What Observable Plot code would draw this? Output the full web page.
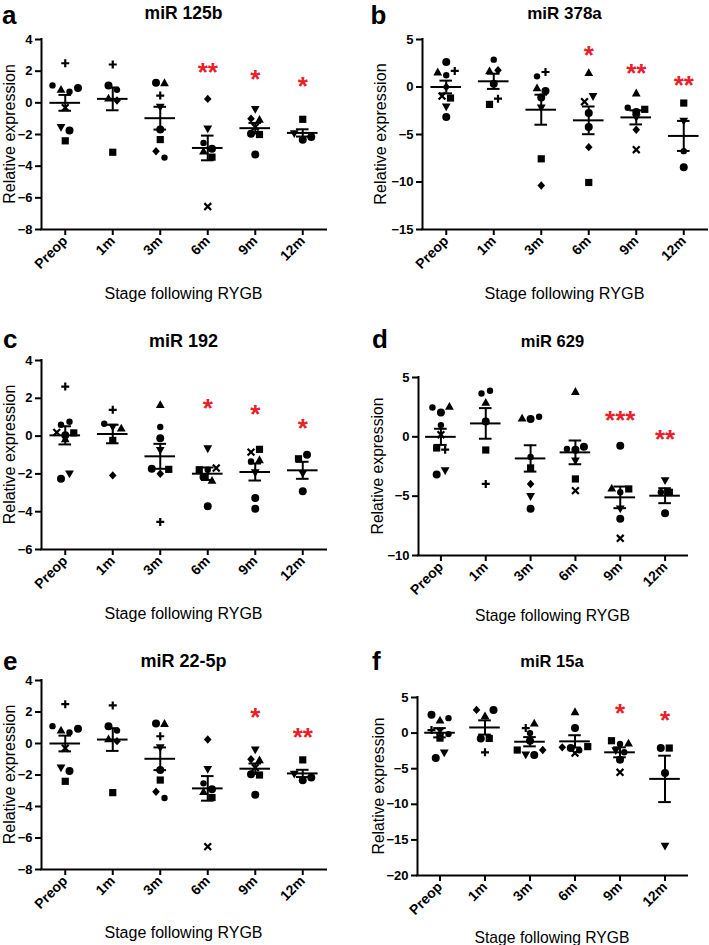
<!DOCTYPE html>
<html><head><meta charset="utf-8">
<script src="https://cdn.jsdelivr.net/npm/d3@7"></script>
<script src="https://cdn.jsdelivr.net/npm/@observablehq/plot@0.6"></script>
<style>
html,body{margin:0;padding:0;background:#fff;}
#root{position:relative;width:709px;height:945px;overflow:hidden;font-family:"Liberation Sans",Arial,sans-serif;}
.panel{position:absolute;}
.panel svg{overflow:visible;}
#overlay{position:absolute;left:0;top:0;pointer-events:none;}
</style></head><body><div id="root"></div>
<script>
// ---------------- DATA ----------------
const stages = ["Preop", "1m", "3m", "6m", "9m", "12m"];
// symbol codes: o circle, h small dot, s square, t triangle, v inverted triangle, d diamond, + plus, x cross
// points: [stage, relative expression, symbol]
const miR125b_points = [
  ["Preop",2.5,"+"],["Preop",1.1,"h"],["Preop",0.85,"t"],["Preop",0.7,"h"],["Preop",0.93,"o"],["Preop",-0.3,"x"],["Preop",-1.55,"v"],["Preop",-1.75,"o"],["Preop",-2.4,"s"],
  ["1m",2.42,"+"],["1m",1.1,"o"],["1m",0.82,"h"],["1m",0.3,"t"],["1m",0.15,"d"],["1m",-3.12,"s"],
  ["3m",1.27,"o"],["3m",1.27,"t"],["3m",0.46,"+"],["3m",-0.27,"v"],["3m",-1.69,"o"],["3m",-2.32,"s"],["3m",-3.06,"d"],["3m",-3.46,"h"],
  ["6m",0.25,"d"],["6m",-1.64,"v"],["6m",-2.53,"h"],["6m",-3.05,"t"],["6m",-2.9,"o"],["6m",-3.43,"s"],["6m",-6.55,"x"],
  ["9m",-0.41,"v"],["9m",-1.0,"d"],["9m",-1.04,"t"],["9m",-1.53,"x"],["9m",-1.95,"o"],["9m",-2.0,"s"],["9m",-3.26,"o"],
  ["12m",-1.04,"s"],["12m",-1.95,"v"],["12m",-2.33,"o"],["12m",-2.16,"o"]
];
const miR125b_mean = [0, 0.25, -0.97, -2.85, -1.6, -1.9];
const miR125b_sem = [0.5, 0.72, 0.72, 0.78, 0.33, 0.23];
const miR125b_stars = ["", "", "", "**", "*", "*"];
const miR125b_starY = [null, null, null, 2.33, 1.89, 1.49];

const miR378a_points = [
  ["Preop",2.64,"o"],["Preop",1.58,"t"],["Preop",1.23,"h"],["Preop",1.69,"+"],["Preop",0,"d"],["Preop",-0.95,"x"],["Preop",-1.16,"s"],["Preop",-2.1,"v"],["Preop",-3.16,"o"],
  ["1m",2.88,"h"],["1m",1.69,"t"],["1m",1.76,"d"],["1m",0.35,"o"],["1m",-1.83,"s"],["1m",-1.23,"+"],
  ["3m",1.12,"h"],["3m",1.58,"+"],["3m",-0.1,"t"],["3m",-0.42,"o"],["3m",-1.1,"o"],["3m",-2.2,"v"],["3m",-7.56,"s"],["3m",-10.37,"d"],
  ["6m",1.51,"t"],["6m",-1.55,"x"],["6m",-1.0,"v"],["6m",-2.74,"o"],["6m",-4.22,"o"],["6m",-6.33,"d"],["6m",-10.05,"s"],
  ["9m",-0.63,"t"],["9m",-2.18,"h"],["9m",-2.64,"o"],["9m",-2.35,"s"],["9m",-3.23,"v"],["9m",-4.5,"d"],["9m",-6.6,"x"],
  ["12m",-1.69,"s"],["12m",-3.59,"v"],["12m",-6.75,"h"],["12m",-8.44,"o"]
];
const miR378a_mean = [0, 0.6, -2.39, -3.51, -3.2, -5.15];
const miR378a_sem = [0.67, 0.8, 1.58, 1.46, 0.74, 1.58];
const miR378a_stars = ["", "", "", "*", "**", "**"];
const miR378a_starY = [null, null, null, 4.05, 2.19, 0.89];

const miR192_points = [
  ["Preop",2.62,"+"],["Preop",0.6,"h"],["Preop",0.76,"h"],["Preop",0.2,"x"],["Preop",0.05,"o"],["Preop",-0.15,"t"],["Preop",0.17,"s"],["Preop",-2.25,"o"],["Preop",-2.0,"v"],
  ["1m",1.39,"+"],["1m",0.65,"h"],["1m",0.48,"v"],["1m",0.42,"t"],["1m",-0.23,"s"],["1m",-2.08,"d"],
  ["3m",1.67,"t"],["3m",0.48,"h"],["3m",-0.11,"o"],["3m",-0.76,"v"],["3m",-1.73,"o"],["3m",-1.99,"d"],["3m",-1.76,"s"],["3m",-4.54,"+"],
  ["6m",-0.67,"v"],["6m",-1.78,"s"],["6m",-1.78,"h"],["6m",-1.69,"x"],["6m",-2.17,"o"],["6m",-2.34,"t"],["6m",-3.71,"o"],
  ["9m",-0.85,"x"],["9m",-0.7,"s"],["9m",-1.34,"h"],["9m",-1.25,"t"],["9m",-1.94,"v"],["9m",-3.84,"o"],["9m",-3.27,"o"],
  ["12m",-1.2,"s"],["12m",-0.99,"o"],["12m",-1.99,"v"],["12m",-2.92,"o"]
];
const miR192_mean = [0.04, 0.11, -1.07, -1.99, -1.9, -1.81];
const miR192_sem = [0.48, 0.49, 0.66, 0.33, 0.45, 0.45];
const miR192_stars = ["", "", "", "*", "*", "*"];
const miR192_starY = [null, null, null, 1.83, 1.48, 0.77];

const miR629_points = [
  ["Preop",2.47,"h"],["Preop",2.05,"o"],["Preop",2.56,"t"],["Preop",0.99,"h"],["Preop",0.18,"x"],["Preop",-0.94,"s"],["Preop",-1.08,"+"],["Preop",-3.18,"o"],["Preop",-2.85,"v"],
  ["1m",3.65,"h"],["1m",3.88,"h"],["1m",2.9,"t"],["1m",1.3,"o"],["1m",-1.11,"s"],["1m",-3.97,"+"],
  ["3m",1.58,"t"],["3m",1.5,"o"],["3m",1.69,"h"],["3m",-1.7,"h"],["3m",-2.62,"s"],["3m",-3.97,"d"],["3m",-5.03,"v"],["3m",-6.07,"o"],
  ["6m",3.82,"t"],["6m",-1.03,"h"],["6m",-1.09,"o"],["6m",-0.83,"o"],["6m",-2.03,"v"],["6m",-3.55,"s"],["6m",-4.53,"x"],
  ["9m",-0.75,"o"],["9m",-4.33,"t"],["9m",-4.67,"h"],["9m",-4.39,"s"],["9m",-6.07,"v"],["9m",-6.91,"o"],["9m",-8.55,"x"],
  ["12m",-3.69,"v"],["12m",-4.67,"h"],["12m",-4.67,"s"],["12m",-6.43,"o"]
];
const miR629_mean = [0, 1.13, -1.82, -1.31, -5.1, -4.96];
const miR629_sem = [0.68, 1.29, 1.11, 1.0, 0.91, 0.63];
const miR629_stars = ["", "", "", "", "***", "**"];
const miR629_starY = [null, null, null, null, 1.92, 0.32];

const miR22_5p_points = [
  ["Preop",2.5,"+"],["Preop",1.1,"h"],["Preop",0.85,"t"],["Preop",0.7,"h"],["Preop",0.93,"o"],["Preop",-0.3,"x"],["Preop",-1.55,"v"],["Preop",-1.75,"o"],["Preop",-2.4,"s"],
  ["1m",2.42,"+"],["1m",1.1,"o"],["1m",0.82,"h"],["1m",0.3,"t"],["1m",0.15,"d"],["1m",-3.12,"s"],
  ["3m",1.27,"o"],["3m",1.27,"t"],["3m",0.46,"+"],["3m",-0.27,"v"],["3m",-1.69,"o"],["3m",-2.32,"s"],["3m",-3.06,"d"],["3m",-3.46,"h"],
  ["6m",0.25,"d"],["6m",-1.64,"v"],["6m",-2.53,"h"],["6m",-3.05,"t"],["6m",-2.9,"o"],["6m",-3.43,"s"],["6m",-6.55,"x"],
  ["9m",-0.41,"v"],["9m",-1.0,"d"],["9m",-1.04,"t"],["9m",-1.53,"x"],["9m",-1.95,"o"],["9m",-2.0,"s"],["9m",-3.26,"o"],
  ["12m",-1.04,"s"],["12m",-1.95,"v"],["12m",-2.33,"o"],["12m",-2.16,"o"]
];
const miR22_5p_mean = [0, 0.25, -0.97, -2.85, -1.6, -1.9];
const miR22_5p_sem = [0.5, 0.72, 0.72, 0.78, 0.33, 0.23];
const miR22_5p_stars = ["", "", "", "", "*", "**"];
const miR22_5p_starY = [null, null, null, null, 2.06, 0.83];

const miR15a_points = [
  ["Preop",2.56,"o"],["Preop",1.82,"t"],["Preop",2.1,"h"],["Preop",0.42,"+"],["Preop",0.23,"x"],["Preop",-0.14,"h"],["Preop",-0.7,"s"],["Preop",-3.49,"o"],["Preop",-2.79,"v"],
  ["1m",3.26,"d"],["1m",2.42,"t"],["1m",3.26,"o"],["1m",-0.75,"o"],["1m",-0.75,"s"],["1m",-2.7,"+"],
  ["3m",0.7,"+"],["3m",1.4,"t"],["3m",0,"h"],["3m",-1.07,"o"],["3m",-2.38,"s"],["3m",-3.07,"v"],["3m",-3.07,"o"],["3m",-2.38,"d"],
  ["6m",3.0,"t"],["6m",0.7,"o"],["6m",-2.0,"d"],["6m",-2.1,"o"],["6m",-2.4,"h"],["6m",-2.8,"x"],["6m",-1.9,"s"],
  ["9m",-1.07,"s"],["9m",-1.54,"h"],["9m",-1.4,"t"],["9m",-2.47,"v"],["9m",-3.73,"o"],["9m",-2.7,"h"],["9m",-5.5,"x"],
  ["12m",-2.1,"o"],["12m",-2.1,"s"],["12m",-5.59,"o"],["12m",-15.88,"v"]
];
const miR15a_mean = [0.05, 0.79, -1.21, -1.16, -2.7, -6.43];
const miR15a_sem = [0.65, 1.0, 0.65, 0.86, 0.7, 3.26];
const miR15a_stars = ["", "", "", "", "*", "*"];
const miR15a_starY = [null, null, null, null, 3.67, 2.74];

const ticks125b = [-8, -6, -4, -2, 0, 2, 4];
const ticks378a = [-15, -10, -5, 0, 5];
const ticks192 = [-6, -4, -2, 0, 2, 4];
const ticks629 = [-10, -5, 0, 5];
const ticks15a = [-20, -15, -10, -5, 0, 5];

const xLabel = "Stage following RYGB";
const yLabel = "Relative expression";

// ---------------- SYMBOLS ----------------
function poly(pts) {
  return {draw(ctx, size) {
    const r = Math.sqrt(size / Math.PI);
    ctx.moveTo(pts[0][0] * r, pts[0][1] * r);
    for (let k = 1; k < pts.length; ++k) ctx.lineTo(pts[k][0] * r, pts[k][1] * r);
    ctx.closePath();
  }};
}
const SYM = {
  o: {draw(ctx, size) { const r = Math.sqrt(size / Math.PI); ctx.moveTo(r, 0); ctx.arc(0, 0, r, 0, 2 * Math.PI); }},
  h: {draw(ctx, size) { const r = 0.8 * Math.sqrt(size / Math.PI); ctx.moveTo(r, 0); ctx.arc(0, 0, r, 0, 2 * Math.PI); }},
  s: poly([[-0.9,-0.9],[0.9,-0.9],[0.9,0.9],[-0.9,0.9]]),
  t: poly([[0,-1.1],[1.1,0.85],[-1.1,0.85]]),
  v: poly([[0,1.1],[1.1,-0.85],[-1.1,-0.85]]),
  d: poly([[0,-1.05],[0.95,0],[0,1.05],[-0.95,0]]),
  "+": {draw(ctx, size) { const r = 1.0 * Math.sqrt(size / Math.PI); ctx.moveTo(-r, 0); ctx.lineTo(r, 0); ctx.moveTo(0, -r); ctx.lineTo(0, r); }},
  x: {draw(ctx, size) { const r = 0.85 * Math.sqrt(size / Math.PI); ctx.moveTo(-r, -r); ctx.lineTo(r, r); ctx.moveTo(-r, r); ctx.lineTo(r, -r); }}
};
const RED = "#e8202a";
const FONT = "'Liberation Sans', Arial, Helvetica, sans-serif";

// ---------------- PANELS ----------------
const panels = [
  {letter: "a", title: "miR 125b", pts: miR125b_points, mean: miR125b_mean, sem: miR125b_sem, stars: miR125b_stars, starY: miR125b_starY, ticks: ticks125b,
   left: 0, top: 0, width: 354, height: 315, m: [39, 28, 86, 41], letterPos: [2, 23.6], titleY: 18.6, titleSize: 17.5, xlabY: 299.3, labSize: 16, ylabX: 15},
  {letter: "b", title: "miR 378a", pts: miR378a_points, mean: miR378a_mean, sem: miR378a_sem, stars: miR378a_stars, starY: miR378a_starY, ticks: ticks378a,
   left: 354, top: 0, width: 355, height: 315, m: [39, 2, 86, 68], letterPos: [370.5, 23.6], titleY: 18.6, titleSize: 17, xlabY: 299.3, labSize: 16.2, ylabX: 386},
  {letter: "c", title: "miR 192", pts: miR192_points, mean: miR192_mean, sem: miR192_sem, stars: miR192_stars, starY: miR192_starY, ticks: ticks192,
   left: 0, top: 315, width: 354, height: 315, m: [45, 28, 81, 41], letterPos: [3, 348.3], titleY: 346.7, titleSize: 18, xlabY: 619.3, labSize: 16, ylabX: 15},
  {letter: "d", title: "miR 629", pts: miR629_points, mean: miR629_mean, sem: miR629_sem, stars: miR629_stars, starY: miR629_starY, ticks: ticks629,
   left: 354, top: 315, width: 355, height: 315, m: [62, 22, 75, 64], letterPos: [372, 348.3], titleY: 346.7, titleSize: 16.5, xlabY: 621, labSize: 15.7, ylabX: 383},
  {letter: "e", title: "miR 22-5p", pts: miR22_5p_points, mean: miR22_5p_mean, sem: miR22_5p_sem, stars: miR22_5p_stars, starY: miR22_5p_starY, ticks: ticks125b,
   left: 0, top: 630, width: 354, height: 315, m: [50, 28, 76, 41], letterPos: [3, 670], titleY: 667.3, titleSize: 18, xlabY: 938.3, labSize: 16, ylabX: 15},
  {letter: "f", title: "miR 15a", pts: miR15a_points, mean: miR15a_mean, sem: miR15a_sem, stars: miR15a_stars, starY: miR15a_starY, ticks: ticks15a,
   left: 354, top: 630, width: 355, height: 315, m: [67, 22, 70, 63], letterPos: [372, 670], titleY: 667.3, titleSize: 16.5, xlabY: 942.5, labSize: 15.7, ylabX: 383.5}
];

// column-scatter layout: points within a few pixels of each other share a row
// and are spread symmetrically about the column centre (in their data order)
function spread(values, kx, ky, tol, step) {
  const order = d3.range(values.length).sort((i, j) => d3.descending(values[i], values[j]) || i - j);
  const off = new Array(values.length).fill(0);
  let k = 0;
  while (k < order.length) {
    const row = [order[k]];
    let m = k + 1;
    while (m < order.length && (values[order[k]] - values[order[m]]) * ky < tol) row.push(order[m++]);
    row.sort((a, b) => a - b);
    row.forEach((idx, j) => { off[idx] = (j - (row.length - 1) / 2) * step / kx; });
    k = m;
  }
  return off;
}

const root = document.getElementById("root");
const NS = "http://www.w3.org/2000/svg";
const overlay = document.createElementNS(NS, "svg");
overlay.setAttribute("id", "overlay");
overlay.setAttribute("width", 709);
overlay.setAttribute("height", 945);

function addText(txt, x, y, size, weight, anchor, rotate) {
  const t = document.createElementNS(NS, "text");
  t.textContent = txt;
  t.setAttribute("font-family", FONT);
  t.setAttribute("font-size", size);
  t.setAttribute("font-weight", weight);
  t.setAttribute("text-anchor", anchor);
  t.setAttribute("fill", "#000");
  if (rotate) t.setAttribute("transform", `translate(${x},${y}) rotate(-90)`);
  else { t.setAttribute("x", x); t.setAttribute("y", y); }
  overlay.appendChild(t);
}

for (const P of panels) {
  const [mT, mR, mB, mL] = P.m;
  const yDomain = [d3.min(P.ticks), d3.max(P.ticks)];
  const xDomain = [-0.5, stages.length - 0.5];
  const fw = P.width - mL - mR, fh = P.height - mT - mB;
  const kx = fw / (xDomain[1] - xDomain[0]);
  const ky = fh / (yDomain[1] - yDomain[0]);

  const rows = [];
  stages.forEach((s, i) => {
    const grp = P.pts.filter(d => d[0] === s);
    const off = spread(grp.map(d => d[1]), kx, ky, 6.4, 8.5);
    grp.forEach((d, j) => rows.push({i, x: i + off[j], y: d[1], sym: d[2]}));
  });
  const stats = stages.map((s, i) => ({i, mean: P.mean[i], sem: P.sem[i]}));
  const starRows = stages.map((s, i) => ({i, label: P.stars[i], y: P.starY[i]})).filter(d => d.label);

  const meanHW = 15.3 / kx, capHW = 6.3 / kx;

  const dotMarks = Object.keys(SYM).map(code => {
    const stroked = code === "+" || code === "x";
    return Plot.dot(rows.filter(d => d.sym === code), {
      x: "x", y: "y", r: 4, symbol: SYM[code],
      fill: stroked ? "none" : "#000", stroke: stroked ? "#000" : "none", strokeWidth: stroked ? 2.2 : 0
    });
  });

  const chart = Plot.plot({
    width: P.width, height: P.height,
    marginTop: mT, marginRight: mR, marginBottom: mB, marginLeft: mL,
    style: {fontFamily: FONT, color: "#000", background: "transparent", overflow: "visible"},
    x: {domain: xDomain},
    y: {domain: yDomain},
    marks: [
      Plot.axisY(P.ticks, {tickSize: 6, tickPadding: 3, label: null, fontSize: 13, fontWeight: "bold", strokeWidth: 2}),
      Plot.axisX(d3.range(stages.length), {tickFormat: i => stages[i], tickRotate: -45, tickSize: 6, tickPadding: 3, label: null, fontSize: 14, fontWeight: "bold", strokeWidth: 2}),
      ...dotMarks,
      Plot.ruleY(stats, {y: "mean", x1: d => d.i - meanHW, x2: d => d.i + meanHW, strokeWidth: 2, stroke: "#000"}),
      Plot.ruleX(stats, {x: "i", y1: d => d.mean - d.sem, y2: d => d.mean + d.sem, strokeWidth: 2, stroke: "#000"}),
      Plot.ruleY(stats, {y: d => d.mean + d.sem, x1: d => d.i - capHW, x2: d => d.i + capHW, strokeWidth: 2, stroke: "#000"}),
      Plot.ruleY(stats, {y: d => d.mean - d.sem, x1: d => d.i - capHW, x2: d => d.i + capHW, strokeWidth: 2, stroke: "#000"}),
      Plot.text(starRows, {x: "i", y: "y", text: "label", fill: RED, fontSize: 26, fontWeight: "bold", dy: 7}),
      Plot.ruleX([xDomain[0]], {strokeWidth: 2, stroke: "#000", strokeLinecap: "square"}),
      Plot.ruleY([yDomain[0]], {strokeWidth: 2, stroke: "#000", strokeLinecap: "square"})
    ]
  });
  const div = document.createElement("div");
  div.className = "panel";
  div.style.left = P.left + "px";
  div.style.top = P.top + "px";
  div.appendChild(chart);
  root.appendChild(div);

  const cx = P.left + mL + fw / 2;
  addText(P.letter, P.letterPos[0], P.letterPos[1], 26, "bold", "start");
  addText(P.title, cx, P.titleY, P.titleSize, "bold", "middle");
  addText(xLabel, cx, P.xlabY, P.labSize, "normal", "middle");
  addText(yLabel, P.ylabX, P.top + mT + fh / 2, P.labSize, "normal", "middle", true);
}
root.appendChild(overlay);
</script>
</body></html>
